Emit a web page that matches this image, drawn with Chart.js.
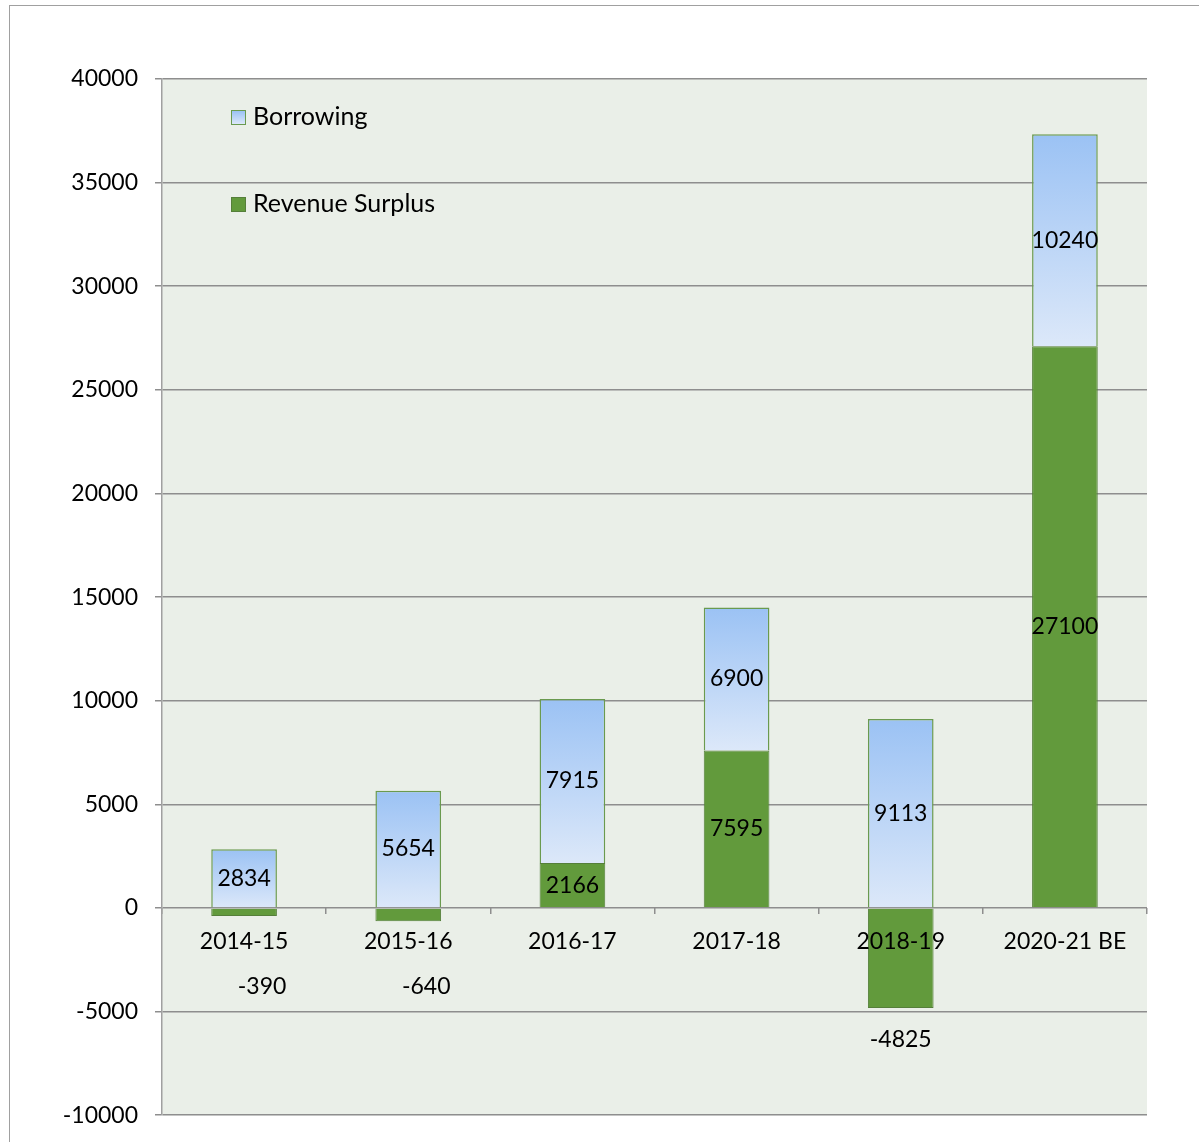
<!DOCTYPE html>
<html>
<head>
<meta charset="utf-8">
<script src="https://cdn.jsdelivr.net/npm/chart.js@4.4.0/dist/chart.umd.min.js"></script>
<style>
	html, body { margin: 0; padding: 0; background: #ffffff; overflow: hidden; }
	#wrap { position: relative; width: 1199px; height: 1142px; overflow: hidden; }
	#frame { position: absolute; left: 9px; top: 5px; width: 1300px; height: 1300px; border: 1px solid #a0a0a0; }
	#chart { position: absolute; left: 0; top: 0; }
	.legendItem { position: absolute; left: 231px; font-family: Lato, sans-serif; font-size: 25px; color: #000; line-height: 28px; white-space: nowrap; }
	.legendItem span.box { display: inline-block; width: 13px; height: 13px; margin-right: 7px; vertical-align: 0px; }
</style>
</head>
<body>
<div id="wrap">
	<div id="frame"></div>
	<canvas id="chart" width="1199" height="1146"></canvas>
	<div class="legendItem" style="top: 101px;"><span class="box" style="background: linear-gradient(#9bc2f4, #dce8f9); border: 1px solid #6a9a4f;"></span>Borrowing</div>
	<div class="legendItem" style="top: 188px;"><span class="box" style="background: #629a3c; border: 1px solid #557f3a;"></span>Revenue Surplus</div>
</div>
<script>
var years = ['2014-15', '2015-16', '2016-17', '2017-18', '2018-19', '2020-21 BE'];
var revenueSurplus = [-390, -640, 2166, 7595, -4825, 27100];
var borrowing = [2834, 5654, 7915, 6900, 9113, 10240];
var yTicks = [-10000, -5000, 0, 5000, 10000, 15000, 20000, 25000, 30000, 35000, 40000];

// gradient for each borrowing bar, from its own top to bottom
function borrowingFill(context) {
	var chart = context.chart;
	var scale = chart.scales ? chart.scales['y'] : null;
	if (!chart.chartArea || !scale || context.type !== 'data') {
		return '#bcd5f6';
	}
	var i = context.dataIndex;
	var base = Math.max(revenueSurplus[i], 0);
	var top = scale.getPixelForValue(base + borrowing[i]);
	var bottom = scale.getPixelForValue(base);
	if (!isFinite(top) || !isFinite(bottom) || top === bottom) {
		return '#bcd5f6';
	}
	var g = chart.ctx.createLinearGradient(0, top, 0, bottom);
	g.addColorStop(0, '#9bc2f4');
	g.addColorStop(1, '#dce8f9');
	return g;
}

var plotBackground = {
	'id': 'plotBackground',
	'beforeDraw': function (chart) {
		var a = chart.chartArea;
		var ctx = chart.ctx;
		ctx.save();
		ctx.fillStyle = '#eaefe8';
		ctx.fillRect(a.left, a.top, a.right - a.left, a.bottom - a.top);
		ctx.restore();
	}
};

// value labels: centred in the segment, negatives below the bar
var valueLabels = {
	'id': 'valueLabels',
	'afterDatasetsDraw': function (chart) {
		var ctx = chart.ctx;
		var zero = chart.scales['y'].getPixelForValue(0);
		ctx.save();
		ctx.font = '23px Lato, sans-serif';
		ctx.fillStyle = '#000000';
		ctx.textAlign = 'center';
		ctx.textBaseline = 'middle';
		chart.data.datasets.forEach(function (ds, d) {
			var meta = chart.getDatasetMeta(d);
			meta.data.forEach(function (bar, i) {
				var v = ds.data[i];
				var y;
				var x = bar.x;
				if (v < 0) {
					y = Math.max(bar.y + 32, zero + 79);
					if (y === zero + 79) {
						x += 18; // small labels sit a bit to the right
					}
				} else {
					y = (bar.y + bar.base) / 2;
				}
				ctx.fillText(String(v), x, y);
			});
		});
		ctx.restore();
	}
};

var data = {
	'labels': years,
	'datasets': [{
		'label': 'Revenue Surplus',
		'data': revenueSurplus,
		'backgroundColor': '#629a3c',
		'borderColor': '#557f3a',
		'borderWidth': 1
	}, {
		'label': 'Borrowing',
		'data': borrowing,
		'backgroundColor': borrowingFill,
		'borderColor': '#6a9a4f',
		'borderWidth': 1.5
	}]
};

var options = {
	'responsive': false,
	'animation': false,
	'layout': {
		'padding': { 'top': 79, 'bottom': 24, 'right': 52, 'left': 0 }
	},
	'datasets': {
		'bar': {
			'categoryPercentage': 0.8,
			'barPercentage': 0.5
		}
	},
	'plugins': {
		'legend': { 'display': false },
		'tooltip': { 'enabled': false }
	},
	'scales': {
		'x': {
			'stacked': true,
			'position': { 'y': 0 },
			'grid': {
				'offset': true,
				'drawOnChartArea': false,
				'drawTicks': true,
				'tickLength': 6,
				'color': '#8e8e8e',
				'lineWidth': 1.5
			},
			'border': { 'display': false },
			'ticks': {
				'z': 1,
				'color': '#000000',
				'padding': 14,
				'maxRotation': 0,
				'autoSkip': false,
				'font': { 'family': 'Lato', 'size': 23 }
			}
		},
		'y': {
			'stacked': true,
			'min': -10000,
			'max': 40000,
			'afterFit': function (scale) { scale.width = 162; },
			'afterBuildTicks': function (scale) {
				scale.ticks = yTicks.map(function (v) { return { 'value': v }; });
			},
			'grid': {
				'color': '#8e8e8e',
				'lineWidth': 1.5,
				'drawTicks': true,
				'tickLength': 7
			},
			'border': { 'display': true, 'color': '#a0a0a0', 'width': 1.5 },
			'ticks': {
				'color': '#000000',
				'padding': 17,
				'font': { 'family': 'Lato', 'size': 23 },
				'callback': function (value) { return String(value); }
			}
		}
	}
};

var config = {
	'type': 'bar',
	'data': data,
	'options': options,
	'plugins': [plotBackground, valueLabels]
};

var barChart = new Chart(document.getElementById('chart'), config);
</script>
</body>
</html>
